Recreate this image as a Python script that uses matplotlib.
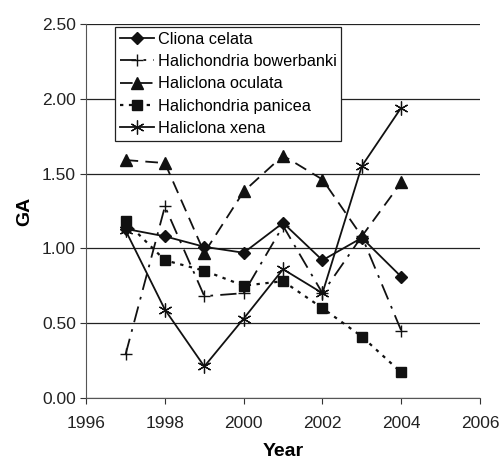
import matplotlib
matplotlib.use("Agg")
from matplotlib import pyplot as plt

plt.rcParams['font.family'] = ['Liberation Sans', 'DejaVu Sans']

years = [1997, 1998, 1999, 2000, 2001, 2002, 2003, 2004]

cliona_celata = [1.13, 1.08, 1.01, 0.97, 1.17, 0.92, 1.07, 0.81]
hal_bowerbanki = [0.29, 1.28, 0.68, 0.70, 1.15, 0.70, 1.08, 0.45]
hal_oculata = [1.59, 1.57, 0.97, 1.38, 1.62, 1.46, 1.08, 1.44]
hal_panicea = [1.18, 0.92, 0.85, 0.75, 0.78, 0.60, 0.41, 0.17]
hal_xena = [1.12, 0.59, 0.21, 0.53, 0.86, 0.70, 1.55, 1.94]

x_ticks = [1996, 1998, 2000, 2002, 2004, 2006]
y_ticks = [0.0, 0.5, 1.0, 1.5, 2.0, 2.5]

fig = plt.figure(figsize=(5.01, 4.61), dpi=100)
ax = fig.add_axes([0.172, 0.137, 0.786, 0.811])

k = '#111111'
ax.plot(years, cliona_celata, color=k, lw=1.3, marker='D', ms=6,
        label='Cliona celata')
ax.plot(years, hal_bowerbanki, color=k, lw=1.3, marker='+', ms=9, mew=1.0,
        dashes=(9, 4, 1.5, 4), label='Halichondria bowerbanki')
ax.plot(years, hal_oculata, color=k, lw=1.3, marker='^', ms=8,
        dashes=(7, 4), label='Haliclona oculata')
ax.plot(years, hal_panicea, color=k, lw=1.6, marker='s', ms=7,
        dashes=(1.5, 2.5), label='Halichondria panicea')
ax.plot(years, hal_xena, color=k, lw=1.3, marker=(6, 2, 0), ms=10, mew=0.9,
        label='Haliclona xena')

ax.set_xlim(1996, 2006)
ax.set_ylim(0, 2.5)
ax.set_xticks(x_ticks)
ax.set_yticks(y_ticks)
ax.set_yticklabels(['%.2f' % v for v in y_ticks])
ax.yaxis.grid(True, color='#222222', lw=0.9)
ax.set_axisbelow(True)
ax.spines['top'].set_visible(False)
ax.spines['right'].set_visible(False)
ax.spines['left'].set_color('#555555')
ax.spines['bottom'].set_color('#555555')
ax.tick_params(direction='out', length=4, labelsize=12.5, color='#333333',
               labelcolor='#222222')
ax.tick_params(axis='x', pad=9)
ax.set_xlabel('Year', fontsize=14, fontweight='bold', labelpad=9)
ax.set_ylabel('GA', fontsize=14, fontweight='bold', labelpad=6)

leg = ax.legend(loc='upper left', bbox_to_anchor=(0.074, 0.992), fontsize=11.7,
                numpoints=1, handlelength=2.1, handletextpad=0.2,
                borderpad=0.3, labelspacing=0.45, frameon=True, fancybox=False,
                framealpha=1, borderaxespad=0)
leg.get_frame().set_edgecolor('#222222')
leg.get_frame().set_linewidth(0.9)

plt.savefig('out.png', dpi=100)
